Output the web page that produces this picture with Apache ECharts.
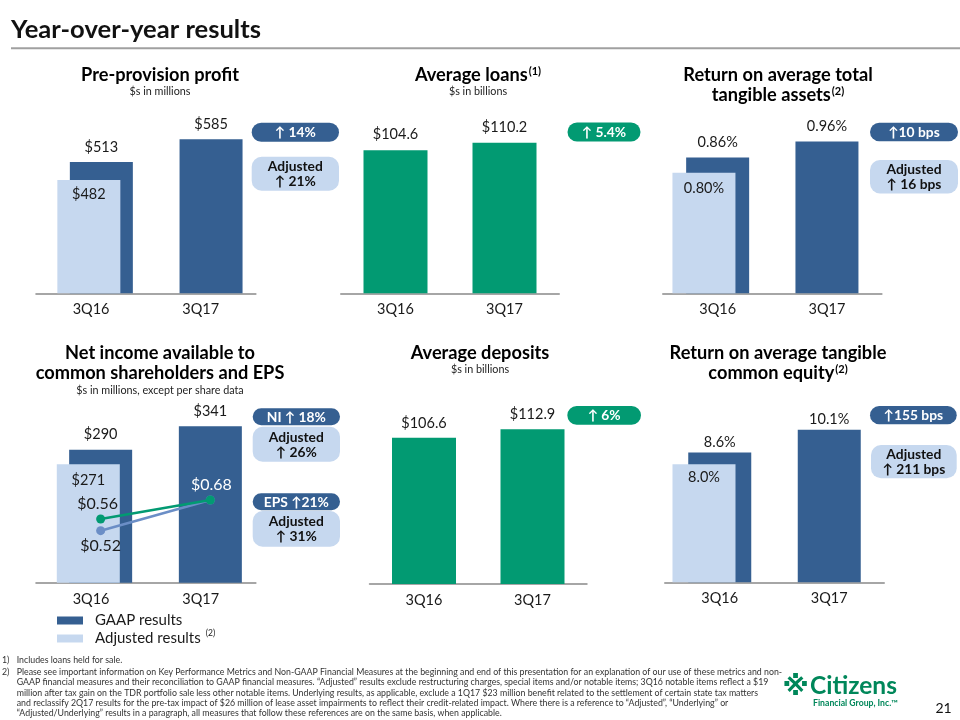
<!DOCTYPE html>
<html><head><meta charset="utf-8">
<script src="https://cdn.jsdelivr.net/npm/echarts@6/dist/echarts.min.js"></script>
<style>html,body{margin:0;padding:0;background:#fff}#c{width:960px;height:720px}</style>
</head><body><div id="c"></div><script>
// ---------------- data ----------------
const categories = ['3Q16', '3Q17'];
const pppGaap = [513, 585];
const pppAdj = [482, null];
const loans = [104.6, 110.2];
const rottaGaap = [0.86, 0.96];
const rottaAdj = [0.80, null];
const niGaap = [290, 341];
const niAdj = [271, null];
const epsGaap = [0.56, 0.68];
const epsAdj = [0.52, 0.68];
const deposits = [106.6, 112.9];
const rotceGaap = [8.6, 10.1];
const rotceAdj = [8.0, null];
const legendNames = ['GAAP results', 'Adjusted results'];
const footnotes = [
  ['1)', 'Includes loans held for sale.'],
  ['2)', 'Please see important information on Key Performance Metrics and Non-GAAP Financial Measures at the beginning and end of this presentation for an explanation of our use of these metrics and non-'],
  ['', 'GAAP financial measures and their reconciliation to GAAP financial measures. “Adjusted” results exclude restructuring charges, special items and/or notable items; 3Q16 notable items reflect a $19'],
  ['', 'million after tax gain on the TDR portfolio sale less other notable items. Underlying results, as applicable, exclude a 1Q17 $23 million benefit related to the settlement of certain state tax matters'],
  ['', 'and reclassify 2Q17 results for the pre-tax impact of $26 million of lease asset impairments to reflect their credit-related impact. Where there is a reference to “Adjusted”, “Underlying” or'],
  ['', '“Adjusted/Underlying” results in a paragraph, all measures that follow these references are on the same basis, when applicable.']
];

// ---------------- style ----------------
const DARK = '#355f91', LIGHT = '#c6d8ef', GREEN = '#029a72', LINEBLUE = '#6b8ec6', AXIS = '#a6a6a6', TXT = '#1a1a1a';
const FT = 'Lato,"DejaVu Sans",sans-serif';
const FC = 'Lato,"Open Sans",sans-serif';
const ctx = document.createElement('canvas').getContext('2d');
function fit(text, weight, family, target, maxSize) {
  ctx.font = weight + ' 20px ' + family;
  return Math.min(maxSize, 20 * target / ctx.measureText(text).width);
}
const titleSize = fit('Year-over-year results', 'bold', FT, 250, 28);
const panelSize = fit('Pre-provision profit', 'bold', FT, 158, 19);
const noteSize = fit(footnotes[1][1], 'normal', FT, 766, 10.5);
const subSize = fit('$s in millions', 'normal', FT, 61, 12);
const badgeSize = fit('Adjusted', 'bold', FT, 55, 15);

const grids = [], xAxes = [], yAxes = [], series = [], graphics = [];

function addGrid(left, top, width, height) {
  grids.push({left: left, top: top, width: width, height: height, containLabel: false, outerBoundsMode: 'none'});
  return grids.length - 1;
}
function addX(g, visible) {
  xAxes.push({
    type: 'category', gridIndex: g, data: categories, show: visible,
    axisLine: {show: visible, lineStyle: {color: AXIS, width: 2}},
    axisTick: {show: false}, splitLine: {show: false},
    axisLabel: {show: visible, color: TXT, fontSize: 14.5, fontFamily: FC, margin: 9}
  });
  return xAxes.length - 1;
}
function addY(g, min, max) {
  yAxes.push({type: 'value', gridIndex: g, min: min, max: max, show: false, splitLine: {show: false}});
  return yAxes.length - 1;
}
function barLabel(pos, dist, fmt) {
  return {show: true, position: pos, distance: dist, formatter: p => fmt(p.value), fontSize: 14.5, fontFamily: FC, color: TXT};
}

function gaapPanel(o) {
  const h = o.base - o.top;
  const ga = addGrid(o.axisLeft, o.top, o.width, h);
  addX(ga, true); addY(ga, 0, 1);
  const gg = addGrid(o.gaapLeft, o.top, o.width, h);
  const xg = addX(gg, false), yg = addY(gg, o.gMin, o.gMax);
  const gd = addGrid(o.adjLeft, o.top, o.width, h);
  const xd = addX(gd, false), yd = addY(gd, 0, o.aMax);
  series.push({type: 'bar', name: 'GAAP results', xAxisIndex: xg, yAxisIndex: yg, data: o.gaap, barWidth: 63,
    itemStyle: {color: DARK}, z: 2, label: barLabel('top', o.tDist, o.fmt)});
  series.push({type: 'bar', name: 'Adjusted results', xAxisIndex: xd, yAxisIndex: yd, data: o.adj, barWidth: 63,
    itemStyle: {color: LIGHT}, z: 3, label: barLabel('insideTop', o.iDist, o.fmt)});
  return {xg: xg, gg: gg};
}
function greenPanel(o) {
  const g = addGrid(o.left, o.top, o.width, o.base - o.top);
  const x = addX(g, true), y = addY(g, 0, o.max);
  series.push({type: 'bar', name: o.name, xAxisIndex: x, yAxisIndex: y, data: o.data, barWidth: 64,
    itemStyle: {color: GREEN}, z: 2, label: barLabel('top', o.tDist, o.fmt)});
}

gaapPanel({top: 100, base: 293.3, axisLeft: 36.2, gaapLeft: 46.5, adjLeft: 34, width: 219.4,
  gaap: pppGaap, adj: pppAdj, gMin: 96.6, gMax: 709.7, aMax: 822.3, fmt: v => '$' + v, tDist: 7, iDist: 7});
greenPanel({name: 'Average loans', top: 100, base: 293.3, left: 341, width: 218, data: loans, max: 141.4,
  fmt: v => '$' + v.toFixed(1), tDist: 8});
gaapPanel({top: 100, base: 293.3, axisLeft: 663, gaapLeft: 663, adjLeft: 649.3, width: 218.6,
  gaap: rottaGaap, adj: rottaAdj, gMin: 0, gMax: 1.2234, aMax: 1.2823, fmt: v => v.toFixed(2) + '%', tDist: 8, iDist: 8.5});
const p4 = gaapPanel({top: 390, base: 582.7, axisLeft: 36.2, gaapLeft: 45.8, adjLeft: 33.45, width: 219.4,
  gaap: niGaap, adj: niAdj, gMin: 0, gMax: 420.3, aMax: 441, fmt: v => '$' + v, tDist: 8, iDist: 9});
const yEpsG = addY(p4.gg, 0.1576, 1.3749);
const yEpsA = addY(p4.gg, 0.249, 1.253);
const epsFmt = v => '$' + v.toFixed(2);
series.push({type: 'line', name: 'Adjusted EPS', xAxisIndex: p4.xg, yAxisIndex: yEpsA, z: 5,
  data: epsAdj.map((v, i) => ({value: v, label: {show: i === 0}})),
  symbol: 'circle', symbolSize: 9, lineStyle: {color: LINEBLUE, width: 2.5}, itemStyle: {color: LINEBLUE},
  label: {position: 'bottom', distance: 3, formatter: p => epsFmt(p.value), fontSize: 16, fontFamily: FC, color: TXT}});
series.push({type: 'line', name: 'EPS', xAxisIndex: p4.xg, yAxisIndex: yEpsG, z: 6,
  data: epsGaap.map((v, i) => ({value: v, label: i === 0 ? {color: TXT, offset: [-3, -1]} : {color: '#ffffff', offset: [1, -1]}})),
  symbol: 'circle', symbolSize: 9, lineStyle: {color: GREEN, width: 2.5}, itemStyle: {color: GREEN},
  label: {show: true, position: 'top', distance: 2, formatter: p => epsFmt(p.value), fontSize: 16, fontFamily: FC}});
greenPanel({name: 'Average deposits', top: 390, base: 584, left: 369.75, width: 217, data: deposits, max: 141.5,
  fmt: v => '$' + v.toFixed(1), tDist: 7});
gaapPanel({top: 390, base: 582.3, axisLeft: 665, gaapLeft: 665, adjLeft: 649.25, width: 219,
  gaap: rotceGaap, adj: rotceAdj, gMin: 0, gMax: 12.73, aMax: 13.04, fmt: v => v.toFixed(1) + '%', tDist: 3, iDist: 5.5});

// ---------------- text / decorations ----------------
function txt(x, y, text, font, fill, align, rich) {
  const st = {text: text, font: font, fill: fill, textAlign: align || 'center', align: align || 'center',
    textVerticalAlign: 'middle', verticalAlign: 'middle'};
  if (rich) st.rich = rich;
  graphics.push({type: 'text', x: x, y: y, silent: true, z: 10, style: st});
}
const supRich = {s: {fontSize: Math.round(panelSize * 0.62), fontWeight: 'bold', fontFamily: FT, fill: '#000', verticalAlign: 'top', padding: [0, 0, 6, 1]}};
const PT = 'bold ' + panelSize.toFixed(2) + 'px ' + FT;
const ST = 'normal ' + subSize.toFixed(2) + 'px ' + FT;

txt(11, 30, 'Year-over-year results', 'bold ' + titleSize.toFixed(2) + 'px ' + FT, '#111', 'left');
graphics.push({type: 'line', silent: true, shape: {x1: 11, y1: 48.3, x2: 960, y2: 48.3}, style: {stroke: '#a0a0a0', lineWidth: 2}});

txt(160, 75, 'Pre-provision profit', PT, '#000');
txt(160, 92, '$s in millions', ST, '#222');
txt(478, 75, 'Average loans{s|(1)}', PT, '#000', 'center', supRich);
txt(478, 92, '$s in billions', ST, '#222');
txt(778, 75, 'Return on average total', PT, '#000');
txt(778, 95, 'tangible assets{s|(2)}', PT, '#000', 'center', supRich);
txt(160, 353.3, 'Net income available to', PT, '#000');
txt(160, 373.3, 'common shareholders and EPS', PT, '#000');
txt(160, 390.5, '$s in millions, except per share data', ST, '#222');
txt(480, 353.3, 'Average deposits', PT, '#000');
txt(480, 369.3, '$s in billions', ST, '#222');
txt(778, 353.3, 'Return on average tangible', PT, '#000');
txt(778, 373.3, 'common equity{s|(2)}', PT, '#000', 'center', supRich);

function badge(x, y, w, h, fill, color, text) {
  graphics.push({type: 'rect', silent: true, z: 9, shape: {x: x, y: y, width: w, height: h, r: Math.min(h / 2, 10)}, style: {fill: fill}});
  graphics.push({type: 'text', silent: true, z: 10, x: x + w / 2, y: y + h / 2 + 0.5,
    style: {text: text, font: 'bold ' + badgeSize.toFixed(2) + 'px ' + FT, fill: color, textAlign: 'center', align: 'center',
      textVerticalAlign: 'middle', verticalAlign: 'middle', lineHeight: 15}});
}
badge(251.7, 122.7, 87.3, 19, DARK, '#fff', '↑ 14%');
badge(251.7, 156.7, 87.3, 34, LIGHT, '#111', 'Adjusted\n↑ 21%');
badge(567.5, 122.5, 73, 19, GREEN, '#fff', '↑ 5.4%');
badge(870, 122.7, 88, 18.5, DARK, '#fff', '↑10 bps');
badge(870, 160, 88, 33.5, LIGHT, '#111', 'Adjusted\n↑ 16 bps');
badge(252.7, 408.3, 87.3, 17, DARK, '#fff', 'NI ↑ 18%');
badge(252.7, 426.7, 87.3, 35, LIGHT, '#111', 'Adjusted\n↑ 26%');
badge(252.7, 493.3, 87.3, 17, DARK, '#fff', 'EPS ↑21%');
badge(252.7, 511, 87.3, 35.7, LIGHT, '#111', 'Adjusted\n↑ 31%');
badge(567.3, 406, 73.7, 18.7, GREEN, '#fff', '↑ 6%');
badge(870, 406, 86.7, 18.3, DARK, '#fff', '↑155 bps');
badge(871, 445, 85.7, 33.3, LIGHT, '#111', 'Adjusted\n↑ 211 bps');

const NF = 'normal ' + noteSize.toFixed(2) + 'px ' + FT;
const noteY = [660.3, 672.3, 682.6, 692.9, 703.2, 713.5];
footnotes.forEach((f, i) => {
  if (f[0]) txt(2, noteY[i], f[0], NF, '#333', 'left');
  txt(16.7, noteY[i], f[1], NF, '#333', 'left');
});

txt(795.5, 688, '※', 'bold 27px "DejaVu Sans",sans-serif', '#00875a');
txt(810, 686, 'Citizens', 'bold ' + fit('Citizens', 'bold', FT, 87, 34).toFixed(2) + 'px ' + FT, '#00875a', 'left');
txt(813, 703.5, 'Financial Group, Inc.™', 'bold ' + fit('Financial Group, Inc.™', 'bold', FT, 85, 12).toFixed(2) + 'px ' + FT, '#00875a', 'left');
txt(943.5, 708, '21', 'normal 14px ' + FC, '#111');

const chart = echarts.init(document.getElementById('c'), null, {renderer: 'canvas'});
chart.setOption({
  animation: false,
  backgroundColor: '#ffffff',
  grid: grids, xAxis: xAxes, yAxis: yAxes, series: series,
  legend: {
    data: legendNames, orient: 'vertical', left: 57, top: 613, padding: 0, itemWidth: 26, itemHeight: 8, itemGap: 1,
    icon: 'rect', selectedMode: false,
    formatter: n => n === 'Adjusted results' ? n + '{s|(2)}' : n,
    textStyle: {fontSize: 15, fontFamily: FC, color: TXT, padding: [0, 0, 0, 7],
      rich: {s: {fontSize: 8.5, fontFamily: FC, color: TXT, verticalAlign: 'top', padding: [0, 0, 10, 5]}}}
  },
  tooltip: {show: false},
  graphic: {elements: graphics}
});
</script></body></html>
